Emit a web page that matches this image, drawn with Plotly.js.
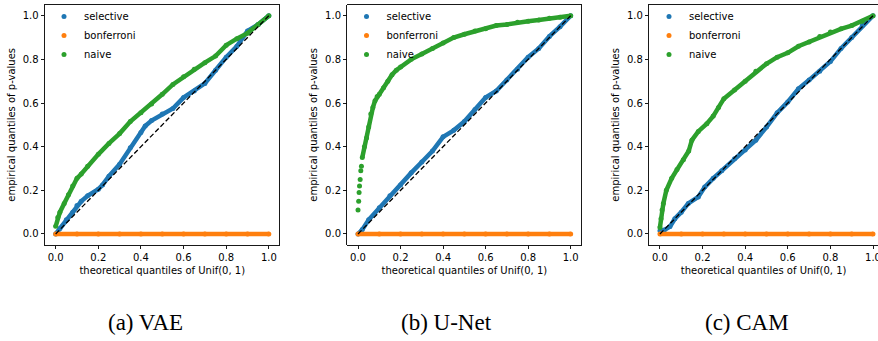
<!DOCTYPE html>
<html>
<head>
<meta charset="utf-8">
<script src="https://cdn.plot.ly/plotly-3.0.1.min.js"></script>
<style>html,body{margin:0;padding:0;background:#fff;}#chart{width:878px;height:341px;}</style>
</head>
<body>
<div id="chart"></div>
<script>
// ---------- data ----------
const panelNames = ["(a) VAE", "(b) U-Net", "(c) CAM"];
const seriesNames = ["selective", "bonferroni", "naive"];
const xTickVals = [0, 0.2, 0.4, 0.6, 0.8, 1.0];
const yTickVals = [0, 0.2, 0.4, 0.6, 0.8, 1.0];
const diagX = [0, 1];
const diagY = [0, 1];

// VAE
const vaeSelX = [0, 0.02, 0.05, 0.08, 0.1, 0.12, 0.15, 0.2, 0.22, 0.25, 0.3, 0.35, 0.4, 0.42, 0.45, 0.5, 0.55, 0.6, 0.65, 0.7, 0.75, 0.8, 0.85, 0.9, 0.95, 1.0];
const vaeSelY = [0, 0.025, 0.065, 0.10, 0.13, 0.15, 0.175, 0.205, 0.225, 0.265, 0.32, 0.395, 0.465, 0.495, 0.52, 0.55, 0.575, 0.625, 0.655, 0.69, 0.75, 0.81, 0.86, 0.93, 0.96, 1.0];
const vaeNaiX = [0, 0.01, 0.02, 0.04, 0.06, 0.08, 0.1, 0.12, 0.15, 0.2, 0.25, 0.3, 0.35, 0.4, 0.45, 0.5, 0.55, 0.6, 0.65, 0.7, 0.75, 0.8, 0.85, 0.9, 0.95, 1.0];
const vaeNaiY = [0.035, 0.075, 0.10, 0.14, 0.18, 0.22, 0.255, 0.275, 0.31, 0.365, 0.415, 0.46, 0.515, 0.555, 0.595, 0.64, 0.685, 0.72, 0.755, 0.785, 0.815, 0.865, 0.895, 0.92, 0.96, 1.0];

// U-Net (the first naive points are isolated dots)
const unetSelX = [0, 0.02, 0.05, 0.1, 0.15, 0.2, 0.25, 0.3, 0.35, 0.4, 0.45, 0.5, 0.55, 0.6, 0.65, 0.7, 0.75, 0.8, 0.85, 0.9, 0.95, 1.0];
const unetSelY = [0, 0.02, 0.065, 0.12, 0.175, 0.225, 0.28, 0.33, 0.38, 0.445, 0.475, 0.515, 0.57, 0.625, 0.655, 0.705, 0.755, 0.81, 0.85, 0.905, 0.95, 1.0];
const unetNaiX = [0, 0.003, 0.005, 0.007, 0.01, 0.013, 0.016, 0.02, 0.03, 0.04, 0.05, 0.06, 0.07, 0.08, 0.09, 0.1, 0.12, 0.14, 0.16, 0.18, 0.2, 0.25, 0.3, 0.35, 0.4, 0.45, 0.5, 0.55, 0.6, 0.65, 0.7, 0.75, 0.8, 0.85, 0.9, 0.95, 1.0];
const unetNaiY = [0.11, 0.15, 0.19, 0.22, 0.25, 0.29, 0.31, 0.35, 0.40, 0.44, 0.49, 0.55, 0.58, 0.61, 0.63, 0.64, 0.67, 0.70, 0.73, 0.75, 0.765, 0.80, 0.825, 0.85, 0.875, 0.90, 0.915, 0.93, 0.94, 0.955, 0.96, 0.97, 0.975, 0.98, 0.988, 0.993, 1.0];
const unetNaiDenseFrom = 7; // index where the naive points become a continuous band

// CAM
const camSelX = [0, 0.02, 0.047, 0.07, 0.1, 0.133, 0.18, 0.21, 0.25, 0.29, 0.35, 0.4, 0.45, 0.5, 0.55, 0.6, 0.65, 0.7, 0.75, 0.8, 0.85, 0.9, 0.95, 1.0];
const camSelY = [0.015, 0.018, 0.034, 0.07, 0.10, 0.14, 0.17, 0.215, 0.255, 0.29, 0.345, 0.385, 0.43, 0.49, 0.555, 0.605, 0.665, 0.705, 0.745, 0.79, 0.85, 0.90, 0.955, 1.0];
const camNaiX = [0, 0.005, 0.01, 0.016, 0.03, 0.055, 0.08, 0.11, 0.135, 0.15, 0.18, 0.22, 0.25, 0.275, 0.3, 0.35, 0.4, 0.45, 0.5, 0.55, 0.6, 0.65, 0.7, 0.75, 0.8, 0.85, 0.9, 0.95, 1.0];
const camNaiY = [0.03, 0.07, 0.11, 0.14, 0.20, 0.255, 0.295, 0.34, 0.38, 0.43, 0.47, 0.505, 0.54, 0.58, 0.62, 0.66, 0.70, 0.745, 0.78, 0.81, 0.83, 0.86, 0.88, 0.905, 0.925, 0.94, 0.955, 0.975, 1.0];

// Bonferroni (all p-values at 0 in every panel)
const bonfX = [0, 0.1, 0.2, 0.3, 0.4, 0.5, 0.6, 0.7, 0.8, 0.9, 1.0];
const bonfY = [0, 0, 0, 0, 0, 0, 0, 0, 0, 0, 0];

// ---------- styling ----------
const colors = {selective: "#1f77b4", bonferroni: "#ff7f0e", naive: "#2ca02c"};
const W = 878, H = 341;
const panels = [
  {sel: [vaeSelX, vaeSelY], nai: [vaeNaiX, vaeNaiY], naiLineFrom: 0, px0: 45, px1: 279.5, xr: [-0.05, 1.05], mirror: true, legX: 44},
  {sel: [unetSelX, unetSelY], nai: [unetNaiX, unetNaiY], naiLineFrom: unetNaiDenseFrom, px0: 347.4, px1: 581.3, xr: [-0.05, 1.05], mirror: true, legX: 346.5},
  {sel: [camSelX, camSelY], nai: [camNaiX, camNaiY], naiLineFrom: 0, px0: 649.3, px1: 878, xr: [-0.05, (878 - 660) / 213], mirror: false, legX: 649}
];
const yTopPx = 4.8, yBotPx = 244.9;

const traces = [];
const layout = {
  width: W, height: H,
  margin: {l: 0, r: 0, t: 0, b: 0},
  paper_bgcolor: "#fff", plot_bgcolor: "#fff",
  font: {family: "DejaVu Sans", size: 10, color: "#000"},
  annotations: [], showlegend: true
};

panels.forEach((p, i) => {
  const n = i === 0 ? "" : String(i + 1);
  const xa = "x" + n, ya = "y" + n, lg = "legend" + n;
  const lineW = 4.5, mSize = 5;
  // selective
  traces.push({x: p.sel[0], y: p.sel[1], xaxis: xa, yaxis: ya, mode: "lines", line: {color: colors.selective, width: lineW}, showlegend: false, hoverinfo: "skip"});
  traces.push({x: p.sel[0], y: p.sel[1], xaxis: xa, yaxis: ya, mode: "markers", marker: {color: colors.selective, size: mSize}, name: seriesNames[0], legend: lg});
  // bonferroni
  traces.push({x: bonfX, y: bonfY, xaxis: xa, yaxis: ya, mode: "lines", line: {color: colors.bonferroni, width: lineW}, showlegend: false, hoverinfo: "skip"});
  traces.push({x: bonfX, y: bonfY, xaxis: xa, yaxis: ya, mode: "markers", marker: {color: colors.bonferroni, size: mSize}, name: seriesNames[1], legend: lg});
  // naive
  traces.push({x: p.nai[0].slice(p.naiLineFrom), y: p.nai[1].slice(p.naiLineFrom), xaxis: xa, yaxis: ya, mode: "lines", line: {color: colors.naive, width: lineW}, showlegend: false, hoverinfo: "skip"});
  traces.push({x: p.nai[0], y: p.nai[1], xaxis: xa, yaxis: ya, mode: "markers", marker: {color: colors.naive, size: mSize}, name: seriesNames[2], legend: lg});
  // diagonal
  traces.push({x: diagX, y: diagY, xaxis: xa, yaxis: ya, mode: "lines", line: {color: "#000", width: 1.3, dash: "5px,2.5px"}, showlegend: false, hoverinfo: "skip"});

  const axCommon = {
    showgrid: false, zeroline: false, showline: true, linecolor: "#000", linewidth: 0.9,
    ticks: "outside", ticklen: 3.5, tickwidth: 0.9, tickcolor: "#000", ticklabeloverflow: "allow",
    tickfont: {family: "DejaVu Sans", size: 10, color: "#000"}, tickformat: ".1f"
  };
  layout["xaxis" + n] = Object.assign({}, axCommon, {
    domain: [p.px0 / W, p.px1 / W], range: p.xr, anchor: ya, tickvals: xTickVals, mirror: true,
    title: {text: "theoretical quantiles of Unif(0, 1)", font: {family: "DejaVu Sans", size: 10, color: "#000"}, standoff: 4}
  });
  layout["yaxis" + n] = Object.assign({}, axCommon, {
    domain: [1 - yBotPx / H, 1 - yTopPx / H], range: [-0.05, 1.05], anchor: xa, tickvals: yTickVals, mirror: p.mirror,
    title: {text: "empirical quantiles of p-values", font: {family: "DejaVu Sans", size: 10, color: "#000"}, standoff: 5}
  });
  layout[lg] = {
    x: p.legX / W, y: 1 - 2 / H, xanchor: "left", yanchor: "top",
    bgcolor: "rgba(0,0,0,0)", borderwidth: 0,
    font: {family: "DejaVu Sans", size: 10, color: "#000"}
  };
});

layout.annotations = [
  {text: panelNames[0], x: 145 / W, y: 1 - 322 / H},
  {text: panelNames[1], x: 446 / W, y: 1 - 322 / H},
  {text: panelNames[2], x: 746.7 / W, y: 1 - 322 / H}
].map(a => Object.assign(a, {xref: "paper", yref: "paper", xanchor: "center", yanchor: "middle", showarrow: false,
  font: {family: "Liberation Serif", size: 23, color: "#000"}}));

Plotly.newPlot("chart", traces, layout, {staticPlot: true, displayModeBar: false});
</script>
</body>
</html>
